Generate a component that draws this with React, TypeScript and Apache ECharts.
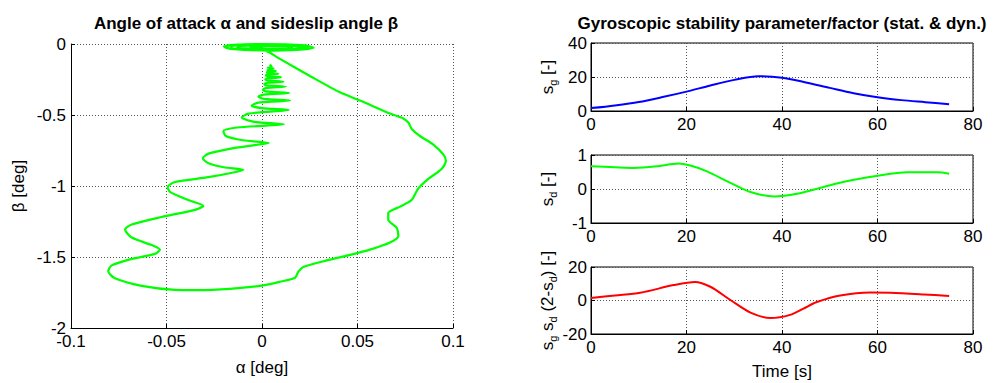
import React, { useEffect, useRef } from "react";
import * as echarts from "echarts";

const FONT = "'Liberation Sans', Arial, Helvetica, sans-serif";

// ---- Left plot: alpha [deg] vs beta [deg] trajectory ----
const startLoops: [number, number][] = [
  [0.003, -0.046], [0.018, -0.042], [0.026, -0.030], [0.025, -0.016], [0.015, -0.004],
  [0.0, -0.001], [-0.014, -0.006], [-0.020, -0.018], [-0.017, -0.032], [-0.006, -0.043],
  [0.005, -0.046], [0.019, -0.040], [0.027, -0.026], [0.022, -0.010], [0.008, -0.002],
  [-0.008, -0.002], [-0.019, -0.012], [-0.019, -0.028], [-0.010, -0.040], [0.002, -0.044],
  [0.016, -0.038], [0.024, -0.027], [0.021, -0.014], [0.008, -0.006], [-0.006, -0.006],
  [-0.016, -0.015], [-0.016, -0.029], [-0.006, -0.038], [0.006, -0.040], [0.018, -0.033],
  [0.022, -0.022], [0.015, -0.012], [0.002, -0.010], [-0.011, -0.014], [-0.013, -0.026],
  [-0.004, -0.034], [0.008, -0.035], [0.016, -0.028], [0.014, -0.018], [0.003, -0.016],
  [-0.006, -0.022], [0.0, -0.030], [0.002, -0.048],
];

const descentPath: [number, number][] = [
  [0.004, -0.06], [0.0094, -0.105], [0.0251, -0.225], [0.0408, -0.34], [0.0513, -0.398],
  [0.067, -0.49], [0.074, -0.524], [0.0767, -0.555], [0.0785, -0.6], [0.0827, -0.648],
  [0.0897, -0.708], [0.0949, -0.777], [0.0963, -0.823], [0.094, -0.88], [0.0871, -0.95],
  [0.0818, -1.018], [0.0783, -1.099], [0.0723, -1.145], [0.0661, -1.191], [0.0661, -1.237],
  [0.0705, -1.294], [0.0714, -1.352], [0.067, -1.398], [0.0565, -1.448], [0.0461, -1.485],
  [0.0339, -1.524], [0.0216, -1.57], [0.019, -1.605], [0.0173, -1.646], [0.0094, -1.674],
  [0.0, -1.701], [-0.0168, -1.724], [-0.0342, -1.733], [-0.0455, -1.731], [-0.063, -1.703],
  [-0.077, -1.65], [-0.0805, -1.6],
];

const spiralPath: [number, number][] = [
  [-0.0787, -1.559], [-0.0682, -1.513], [-0.056, -1.478], [-0.0534, -1.448], [-0.0577, -1.416],
  [-0.0682, -1.363], [-0.0717, -1.306], [-0.0682, -1.271], [-0.0525, -1.218], [-0.0351, -1.168],
  [-0.0307, -1.14], [-0.0386, -1.099], [-0.0482, -1.041], [-0.0494, -1.007], [-0.0455, -0.972],
  [-0.0281, -0.938], [-0.015, -0.905], [-0.0098, -0.886], [-0.02, -0.868], [-0.028, -0.84],
  [-0.031, -0.805], [-0.028, -0.772], [-0.017, -0.738], [-0.004, -0.712], [0.0035, -0.697],
  [-0.01, -0.678], [-0.019, -0.648], [-0.0202, -0.612], [-0.013, -0.588], [0.0115, -0.566],
  [-0.004, -0.548], [-0.0106, -0.518], [-0.007, -0.49], [0.014, -0.465],
  [0.0, -0.452], [-0.0054, -0.435], [-0.002, -0.413], [0.0147, -0.398],
  [0.001, -0.386], [-0.0019, -0.372], [0.001, -0.357], [0.0143, -0.345],
  [0.002, -0.334], [0.0005, -0.322], [0.002, -0.31], [0.0125, -0.3],
  [0.002, -0.291], [0.0012, -0.283], [0.003, -0.273], [0.0112, -0.265],
  [0.003, -0.257], [0.0018, -0.25], [0.003, -0.242], [0.01, -0.235],
  [0.003, -0.228], [0.002, -0.222], [0.003, -0.215], [0.0085, -0.21],
  [0.003, -0.204], [0.0025, -0.2], [0.0035, -0.195], [0.0072, -0.19],
  [0.003, -0.185], [0.0028, -0.181], [0.004, -0.176], [0.006, -0.172],
  [0.003, -0.168], [0.003, -0.165], [0.005, -0.158], [0.004, -0.145],
];

// ---- Right plots: time histories ----
const sgTime = [0, 5, 10, 15, 20, 25, 30, 35, 40, 45, 50, 55, 60, 65, 70, 75];
const sgValues = [1.7, 3.3, 5.3, 8.2, 11.4, 15.0, 18.3, 20.5, 19.6, 16.8, 13.6, 10.5, 8.1, 6.4, 5.2, 4.0];

const sdTime = [0, 5, 9, 14, 18.3, 20.8, 24.3, 29.2, 33.4, 38.3, 43.1, 48.7, 54, 60, 66.2, 72.5, 75];
const sdValues = [0.67, 0.64, 0.62, 0.67, 0.75, 0.69, 0.52, 0.18, -0.09, -0.22, -0.14, 0.06, 0.24, 0.39, 0.49, 0.49, 0.45];

const prodTime = [0, 5, 10.3, 17.3, 21.8, 25, 29.2, 33.4, 37.6, 41.7, 44.5, 47.3, 52.2, 58.5, 62.7, 69.7, 75];
const prodValues = [1.5, 3.0, 4.6, 9.2, 11.1, 8.2, 0.3, -7.2, -10.5, -8.6, -4.8, -0.9, 3.0, 4.8, 4.6, 3.6, 2.7];

const leftTitle = "Angle of attack α and sideslip angle β";
const rightTitle = "Gyroscopic stability parameter/factor (stat. & dyn.)";

const zip = (xs: number[], ys: number[]) => xs.map((x, i) => [x, ys[i]]);

const gridDotted = { show: true, lineStyle: { color: "#555", type: [1, 2] as any, width: 1 } };
const labelStyle = { color: "#000", fontSize: 17, fontFamily: FONT, margin: 5 };
const nameStyle = {
  color: "#000",
  fontSize: 17,
  fontFamily: FONT,
  lineHeight: 22,
  rich: { sub: { fontSize: 11, fontFamily: FONT, color: "#000", lineHeight: 11, verticalAlign: "bottom" } },
};
const tickStyle = { show: true, inside: true, length: 4, lineStyle: { color: "#000" } };
const lineAxis = { show: true, onZero: false, lineStyle: { color: "#000", width: 1 } };

export default function App() {
  const ref = useRef<HTMLDivElement>(null);
  useEffect(() => {
    const chart = echarts.init(ref.current!, null, { renderer: "svg" });
    const rightX = (gi: number, name?: string) => ({
      type: "value",
      gridIndex: gi,
      min: 0,
      max: 80,
      interval: 20,
      axisLine: lineAxis,
      axisTick: tickStyle,
      axisLabel: labelStyle,
      splitLine: gridDotted,
      name,
      nameLocation: "middle",
      nameGap: 26,
      nameTextStyle: nameStyle,
    });
    const rightY = (gi: number, min: number, max: number, interval: number, name: string) => ({
      type: "value",
      gridIndex: gi,
      min,
      max,
      interval,
      axisLine: lineAxis,
      axisTick: tickStyle,
      axisLabel: { ...labelStyle, margin: 4 },
      splitLine: gridDotted,
      name,
      nameLocation: "middle",
      nameGap: 33,
      nameTextStyle: nameStyle,
    });
    const option: any = {
      animation: false,
      backgroundColor: "#fff",
      grid: [
        { left: 71, top: 44, width: 382, height: 290 },
        { left: 591, top: 43, width: 382, height: 68, show: true, borderColor: "#000", borderWidth: 1 },
        { left: 591, top: 155, width: 382, height: 68, show: true, borderColor: "#000", borderWidth: 1 },
        { left: 591, top: 267, width: 382, height: 68, show: true, borderColor: "#000", borderWidth: 1 },
      ],
      xAxis: [
        {
          type: "value",
          gridIndex: 0,
          min: -0.1,
          max: 0.1,
          interval: 0.05,
          axisLine: lineAxis,
          axisTick: tickStyle,
          axisLabel: labelStyle,
          splitLine: gridDotted,
          name: "α [deg]",
          nameLocation: "middle",
          nameGap: 28,
          nameTextStyle: nameStyle,
        },
        rightX(1),
        rightX(2),
        rightX(3, "Time [s]"),
      ],
      yAxis: [
        {
          type: "value",
          gridIndex: 0,
          min: -2,
          max: 0,
          interval: 0.5,
          axisLine: lineAxis,
          axisTick: tickStyle,
          axisLabel: labelStyle,
          splitLine: gridDotted,
          name: "β [deg]",
          nameLocation: "middle",
          nameGap: 42,
          nameTextStyle: nameStyle,
        },
        rightY(1, 0, 40, 20, "s{sub|g} [-]"),
        rightY(2, -1, 1, 1, "s{sub|d} [-]"),
        rightY(3, -20, 20, 20, "s{sub|g} s{sub|d} (2-s{sub|d}) [-]"),
      ],
      series: [
        {
          type: "line",
          xAxisIndex: 0,
          yAxisIndex: 0,
          data: [...startLoops, ...descentPath, ...spiralPath],
          showSymbol: false,
          smooth: 0.25,
          lineStyle: { color: "#00ff00", width: 2.2 },
        },
        {
          type: "line",
          xAxisIndex: 1,
          yAxisIndex: 1,
          data: zip(sgTime, sgValues),
          showSymbol: false,
          smooth: 0.3,
          lineStyle: { color: "#0000ff", width: 2 },
        },
        {
          type: "line",
          xAxisIndex: 2,
          yAxisIndex: 2,
          data: zip(sdTime, sdValues),
          showSymbol: false,
          smooth: 0.3,
          lineStyle: { color: "#00ff00", width: 2 },
        },
        {
          type: "line",
          xAxisIndex: 3,
          yAxisIndex: 3,
          data: zip(prodTime, prodValues),
          showSymbol: false,
          smooth: 0.3,
          lineStyle: { color: "#ff0000", width: 2 },
        },
      ],
      graphic: [
        {
          type: "text",
          x: 246,
          y: 23,
          style: {
            text: leftTitle,
            font: `bold 17px ${FONT}`,
            fill: "#000",
            textAlign: "center",
            textVerticalAlign: "middle",
          },
        },
        {
          type: "text",
          x: 782,
          y: 23,
          style: {
            text: rightTitle,
            font: `bold 17px ${FONT}`,
            fill: "#000",
            textAlign: "center",
            textVerticalAlign: "middle",
          },
        },
      ],
    };
    chart.setOption(option);
    return () => chart.dispose();
  }, []);
  return (
    <div
      ref={ref}
      style={{ position: "fixed", left: 0, top: 0, width: 1001, height: 383, background: "#fff", overflow: "hidden" }}
    />
  );
}
